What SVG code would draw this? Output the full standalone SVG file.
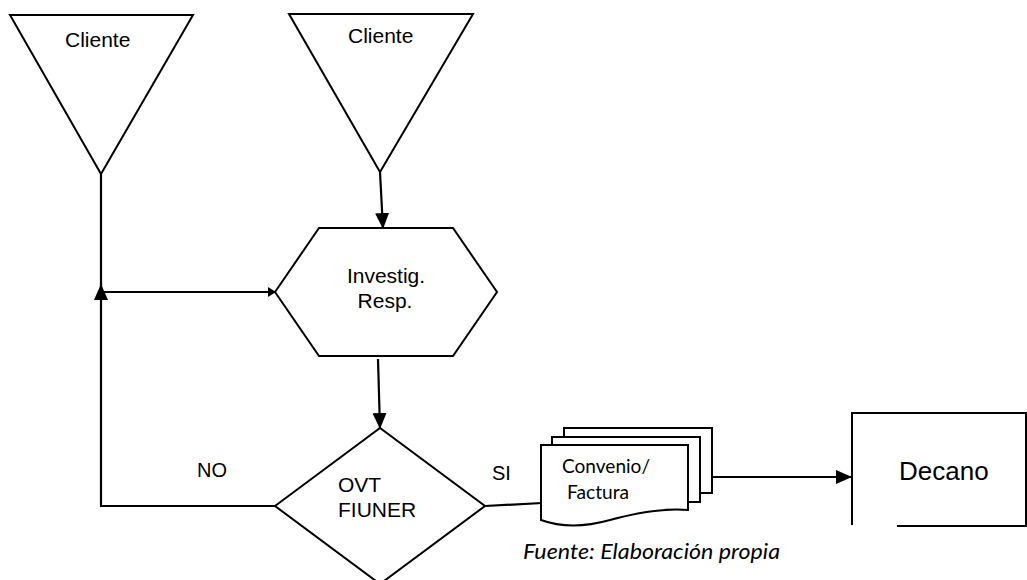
<svg xmlns="http://www.w3.org/2000/svg" width="1027" height="580" viewBox="0 0 1027 580">
<style>
.shape{fill:#fff;stroke:#000;stroke-width:2;stroke-linejoin:miter}
.ln{fill:none;stroke:#000;stroke-width:2.2}
.t{font-family:"Liberation Sans",Arial,sans-serif;font-size:21px;fill:#000}
.c{font-family:Lato,"Open Sans",sans-serif;font-size:20px;fill:#000}
</style>
<defs>
<marker id="ah" markerUnits="userSpaceOnUse" markerWidth="16" markerHeight="14" refX="16" refY="7" orient="auto">
<path d="M0,0 L16,7 L0,14 Z" fill="#000"/>
</marker>
<marker id="ahs" markerUnits="userSpaceOnUse" markerWidth="8" markerHeight="10" refX="8" refY="5" orient="auto">
<path d="M0,0 L8,5 L0,10 Z" fill="#000"/>
</marker>
</defs>
<rect width="1027" height="580" fill="#fff"/>
<g id="connectors">
<path class="ln" d="M101,174 V292 H276" marker-end="url(#ahs)"/>
<path class="ln" d="M275,506 H101 V284" marker-end="url(#ah)"/>
<path class="ln" d="M380,172 L383,229" marker-end="url(#ah)"/>
<path class="ln" d="M378,359 L380,429" marker-end="url(#ah)"/>
<path class="ln" d="M485,506 L542,503"/>
<path class="ln" d="M712,477 H852" marker-end="url(#ah)"/>
</g>
<g id="cliente1">
<polygon class="shape" points="10,15 193,15 101,174"/>
<text class="t" x="65" y="47">Cliente</text>
</g>
<g id="cliente2">
<polygon class="shape" points="289,14 473,14 380,172"/>
<text class="t" x="348" y="43">Cliente</text>
</g>
<g id="investig">
<polygon class="shape" points="275,292 319,228 453,228 497,292 453,356 319,356"/>
<text class="t" x="386" y="283" text-anchor="middle">Investig.</text>
<text class="t" x="385" y="308" text-anchor="middle">Resp.</text>
</g>
<g id="ovt">
<polygon class="shape" points="275,506 380,428 485,506 380,584"/>
<text class="t" x="338" y="492">OVT</text>
<text class="t" x="338" y="517">FIUNER</text>
</g>
<text class="t" x="197" y="477" style="font-size:20px">NO</text>
<text class="t" x="492" y="480" style="font-size:20px">SI</text>
<g id="documentos">
<path class="shape" d="M564,437 V428 H712 V493 H700"/>
<path class="shape" d="M552,445 V437 H700 V502 H688"/>
<path class="shape" d="M541,445 H688 V510 C665,508 640,512 610,520 C585,527 560,527 541,520 Z"/>
<text class="c" x="562" y="473" textLength="88" lengthAdjust="spacingAndGlyphs">Convenio/</text>
<text class="c" x="567" y="499" textLength="62" lengthAdjust="spacingAndGlyphs">Factura</text>
</g>
<g id="decano">
<path class="shape" d="M897,526 H1026 V413 H852 V525"/>
<text class="t" x="899" y="480" style="font-size:26px">Decano</text>
</g>
<text class="c" x="523" y="559" font-style="italic" style="font-size:21px" textLength="257" lengthAdjust="spacingAndGlyphs">Fuente: Elaboración propia</text>
</svg>
